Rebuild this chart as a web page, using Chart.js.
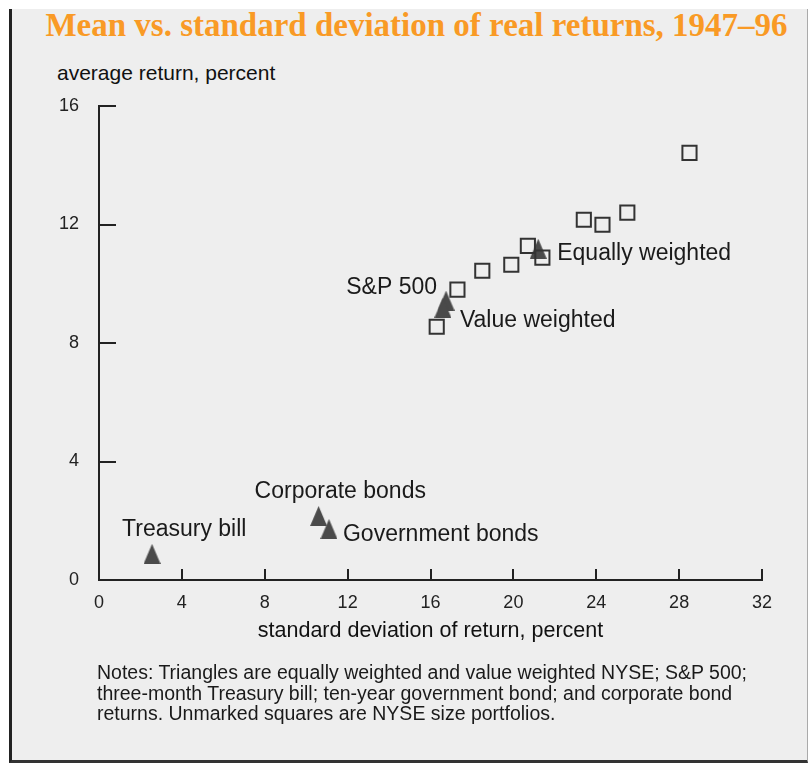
<!DOCTYPE html>
<html>
<head>
<meta charset="utf-8">
<script src="https://cdn.jsdelivr.net/npm/chart.js@4.4.0/dist/chart.umd.min.js"></script>
<style>
  body { margin: 0; background: #fff; width: 809px; height: 764px; overflow: hidden; position: relative;
         font-family: "Liberation Sans", Arial, sans-serif; }
  #frame { position: absolute; left: 9px; top: 9px; width: 795px; height: 751px; background: #eeeeee;
           border-left: 3px solid #222; border-bottom: 3px solid #333; border-right: 1px solid #aaa; }
  #title { position: absolute; left: 0; top: 7px; width: 833px; text-align: center; white-space: nowrap;
           font: bold 33px "Liberation Serif", "Times New Roman", serif; color: #f99a25; }
  #ycap { position: absolute; left: 57px; top: 61px; font-size: 21px; color: #111; white-space: nowrap; }
  #notes { position: absolute; left: 97px; top: 662px; font-size: 19.5px; line-height: 20.5px; color: #1a1a1a; white-space: nowrap; }
  #wrap { position: absolute; left: 0; top: 0; width: 809px; height: 764px; }
</style>
</head>
<body>
<div id="frame"></div>
<div id="title">Mean vs. standard deviation of real returns, 1947–96</div>
<div id="ycap">average return, percent</div>
<div id="wrap"><canvas id="scatter"></canvas></div>
<div id="notes">Notes: Triangles are equally weighted and value weighted NYSE; S&amp;P 500;<br>three-month Treasury bill; ten-year government bond; and corporate bond<br>returns. Unmarked squares are NYSE size portfolios.</div>
<script>
// NYSE size portfolios (unmarked squares)
var sizeSd   = [16.3, 17.3, 18.5, 19.9, 20.7, 21.4, 23.4, 24.3, 25.5, 28.5];
var sizeMean = [8.55, 9.8, 10.44, 10.64, 11.28, 10.88, 12.16, 11.99, 12.4, 14.42];

// labelled assets (triangles)
var assetNames = ['Treasury bill', 'Corporate bonds', 'Government bonds', 'S&P 500', 'Value weighted', 'Equally weighted'];
var assetSd    = [2.56, 10.6, 11.1, 16.75, 16.6, 21.2];
var assetMean  = [0.88, 2.16, 1.72, 9.43, 9.19, 11.18];

var xTicks = [0, 4, 8, 12, 16, 20, 24, 28, 32];
var yTicks = [0, 4, 8, 12, 16];

// where each name sits next to its triangle
var labelPlace = [
  {dx: -30, dy: -24, align: 'left'},
  {dx: -64, dy: -24, align: 'left'},
  {dx: 14,  dy: 6,   align: 'left'},
  {dx: -9,  dy: -13, align: 'right'},
  {dx: 17,  dy: 13,  align: 'left'},
  {dx: 19,  dy: 5,   align: 'left'}
];

function triangleImage(w, h, color) {
  var c = document.createElement('canvas');
  c.width = w; c.height = h;
  var g = c.getContext('2d');
  g.fillStyle = color;
  g.beginPath();
  g.moveTo(w / 2, 0);
  g.lineTo(w, h);
  g.lineTo(0, h);
  g.closePath();
  g.fill();
  return c;
}

var innerTicks = {
  id: 'innerTicks',
  afterDraw: function(chart) {
    var ctx = chart.ctx, a = chart.chartArea;
    var xs = chart.scales.x, ys = chart.scales.y;
    ctx.save();
    ctx.strokeStyle = '#222';
    ctx.lineWidth = 2;
    xTicks.slice(1).forEach(function(v) {
      var px = Math.round(xs.getPixelForValue(v));
      ctx.beginPath(); ctx.moveTo(px, a.bottom); ctx.lineTo(px, a.bottom - 11); ctx.stroke();
    });
    yTicks.slice(1).forEach(function(v) {
      var py = Math.round(ys.getPixelForValue(v));
      ctx.beginPath(); ctx.moveTo(a.left, py); ctx.lineTo(a.left + 17, py); ctx.stroke();
    });
    // names beside the triangles
    var pts = chart.getDatasetMeta(1).data;
    ctx.fillStyle = '#1a1a1a';
    ctx.font = '23px "Liberation Sans", Arial, sans-serif';
    ctx.textBaseline = 'middle';
    assetNames.forEach(function(name, i) {
      var p = labelPlace[i];
      ctx.textAlign = p.align;
      ctx.fillText(name, pts[i].x + p.dx, pts[i].y + p.dy);
    });
    ctx.restore();
  }
};

var ctx = document.getElementById('scatter');
new Chart(ctx, {
  type: 'scatter',
  data: {
    datasets: [{
      label: 'NYSE size portfolios',
      data: sizeSd.map(function(x, i) { return {x: x, y: sizeMean[i]}; }),
      pointStyle: 'rect',
      pointRadius: 10,
      borderWidth: 2,
      borderColor: '#333',
      backgroundColor: 'rgba(0,0,0,0)'
    }, {
      label: 'Assets',
      data: assetSd.map(function(x, i) { return {x: x, y: assetMean[i]}; }),
      pointStyle: triangleImage(17, 20, '#4a4a4a'),
      pointRadius: 10
    }]
  },
  options: {
    responsive: true,
    maintainAspectRatio: false,
    animation: false,
    events: [],
    layout: { padding: {left: 20, top: 106, right: 47, bottom: 120} },
    plugins: { legend: {display: false}, tooltip: {enabled: false}, title: {display: false} },
    scales: {
      x: {
        type: 'linear', min: xTicks[0], max: xTicks[xTicks.length - 1],
        afterFit: function(s) { s.height = 64; },
        grid: {display: false, drawTicks: false},
        border: {display: true, color: '#222', width: 2},
        ticks: {stepSize: 4, padding: 12, color: '#222', font: {size: 18, family: '"Liberation Sans", Arial, sans-serif'}},
        title: {display: true, text: 'standard deviation of return, percent', color: '#111', padding: 0,
                font: {size: 21.5, family: '"Liberation Sans", Arial, sans-serif'}}
      },
      y: {
        type: 'linear', min: yTicks[0], max: yTicks[yTicks.length - 1],
        afterFit: function(s) { s.width = 79; },
        grid: {display: false, drawTicks: false},
        border: {display: true, color: '#222', width: 2},
        ticks: {stepSize: 4, padding: 20, color: '#222', font: {size: 18, family: '"Liberation Sans", Arial, sans-serif'}}
      }
    }
  },
  plugins: [innerTicks]
});
</script>
</body>
</html>
